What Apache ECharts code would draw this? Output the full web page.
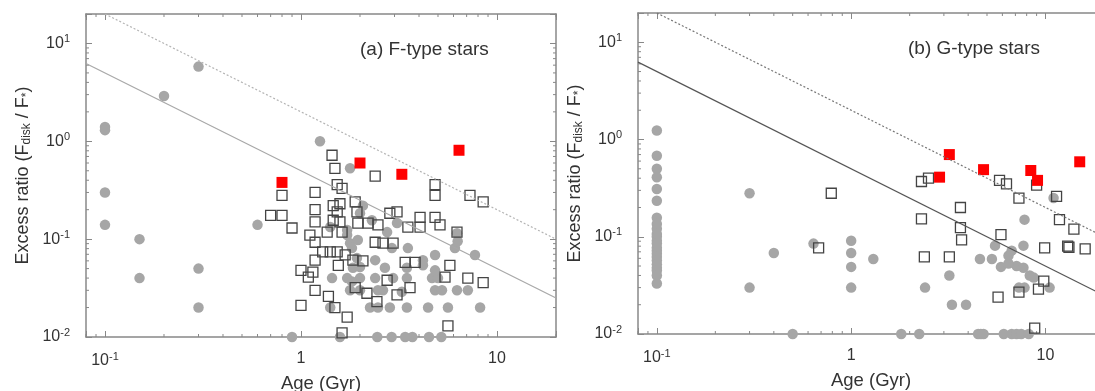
<!DOCTYPE html>
<html>
<head>
<meta charset="utf-8">
<script src="https://cdn.jsdelivr.net/npm/echarts@6.0.0/dist/echarts.min.js"></script>
<style>
html, body { margin: 0; padding: 0; background: #fff; }
#chart { width: 1095px; height: 391px; }
</style>
</head>
<body>
<div id="chart"></div>
<script>
// (a) F-type stars: [age Gyr, excess ratio]
const fCircles = [
  [0.1, 1.4], [0.1, 1.3], [0.1, 0.30], [0.1, 0.14], [0.15, 0.1], [0.15, 0.04], [0.2, 2.9],
  [0.3, 5.8], [0.3, 0.05], [0.3, 0.02], [0.6, 0.14], [1.25, 1.0], [1.78, 0.53],
  [0.9, 0.01], [1.58, 0.01], [2.45, 0.01], [2.9, 0.01], [3.4, 0.01], [3.7, 0.01], [4.5, 0.01], [5.2, 0.01],
  [1.41, 0.133], [1.72, 0.124], [1.78, 0.091], [1.95, 0.098], [2.75, 0.118], [3.09, 0.146],
  [2.91, 0.081], [3.51, 0.081], [4.83, 0.069], [6.25, 0.115], [6.1, 0.081], [7.72, 0.069],
  [2.39, 0.061], [2.68, 0.051], [1.44, 0.040], [1.72, 0.040], [2.0, 0.040], [2.39, 0.040],
  [2.95, 0.040], [3.47, 0.040], [4.66, 0.040], [5.0, 0.040], [1.78, 0.030], [2.0, 0.030],
  [2.62, 0.030], [3.27, 0.029], [4.83, 0.030], [5.24, 0.030], [6.25, 0.030], [7.1, 0.030],
  [1.41, 0.020], [2.25, 0.020], [2.47, 0.020], [2.84, 0.020], [3.47, 0.020], [4.45, 0.020],
  [5.62, 0.020], [8.2, 0.020], [4.83, 0.048], [2.0, 0.052], [4.19, 0.054], [2.07, 0.22],
  [1.72, 0.11], [1.82, 0.081], [1.93, 0.064], [1.84, 0.051], [1.82, 0.037], [2.47, 0.030],
  [3.47, 0.051], [4.19, 0.061], [6.3, 0.095], [2.0, 0.184], [2.3, 0.156]
]
const fSquares = [
  [1.44, 0.72], [1.49, 0.53], [0.80, 0.28], [1.18, 0.30], [1.53, 0.36], [1.62, 0.33], [0.70, 0.175],
  [0.80, 0.175], [0.90, 0.13], [1.18, 0.20], [1.18, 0.15], [1.46, 0.22], [1.53, 0.19], [1.89, 0.24],
  [1.93, 0.19], [1.95, 0.146], [1.46, 0.156], [1.58, 0.15], [1.11, 0.11], [1.18, 0.093], [1.36, 0.118],
  [1.62, 0.118], [1.29, 0.074], [1.41, 0.074], [1.53, 0.074], [1.68, 0.069], [1.18, 0.061], [1.55, 0.054],
  [1.0, 0.048], [1.15, 0.046], [1.09, 0.041], [1.18, 0.030], [1.38, 0.026], [1.89, 0.032], [1.0, 0.021],
  [1.49, 0.020], [1.72, 0.016], [1.62, 0.011], [2.2, 0.146], [2.47, 0.14], [2.84, 0.184], [3.09, 0.19],
  [3.51, 0.133], [4.05, 0.167], [4.05, 0.133], [4.83, 0.167], [5.12, 0.14], [4.83, 0.36], [4.83, 0.28],
  [7.28, 0.28], [8.5, 0.24], [6.25, 0.118], [2.39, 0.093], [2.62, 0.091], [2.95, 0.091], [1.84, 0.061],
  [2.07, 0.06], [3.4, 0.058], [3.82, 0.058], [5.75, 0.054], [2.75, 0.038], [3.6, 0.032], [7.1, 0.040],
  [8.5, 0.036], [5.43, 0.041], [2.17, 0.028], [3.09, 0.027], [5.62, 0.013], [2.39, 0.44], [2.44, 0.023],
  [1.58, 0.23]
]
const fRed = [[0.8, 0.38], [2.0, 0.6], [3.27, 0.46], [6.4, 0.81]]

// (b) G-type stars
const gCircles = [
  [0.1, 1.24], [0.1, 0.68], [0.1, 0.50], [0.1, 0.41], [0.1, 0.31], [0.1, 0.235], [0.1, 0.157],
  [0.1, 0.135], [0.1, 0.121], [0.1, 0.107], [0.1, 0.1], [0.1, 0.091], [0.1, 0.085], [0.1, 0.077],
  [0.1, 0.072], [0.1, 0.067], [0.1, 0.062], [0.1, 0.057], [0.1, 0.052], [0.1, 0.048], [0.1, 0.045],
  [0.1, 0.04], [0.1, 0.033],
  [0.3, 0.28], [0.3, 0.03], [0.4, 0.068], [0.5, 0.01], [0.64, 0.085], [1.0, 0.091], [1.0, 0.068],
  [1.0, 0.049], [1.0, 0.030], [1.3, 0.059], [2.4, 0.030], [3.2, 0.040], [3.3, 0.020], [3.9, 0.020],
  [4.6, 0.059], [5.3, 0.059], [5.5, 0.081], [5.9, 0.049], [6.45, 0.064], [6.7, 0.072], [7.7, 0.081],
  [7.1, 0.05], [7.7, 0.048], [8.3, 0.040], [8.7, 0.038], [7.3, 0.03], [7.8, 0.03], [10.5, 0.03],
  [7.8, 0.15], [11, 0.25], [6.45, 0.053],
  [1.81, 0.01], [2.24, 0.01], [4.5, 0.01], [4.65, 0.01], [4.8, 0.01], [6.1, 0.01], [6.7, 0.01],
  [7.1, 0.01], [7.5, 0.01], [8.2, 0.01]
]
const gSquares = [
  [0.79, 0.28], [0.68, 0.077], [2.3, 0.37], [2.5, 0.40], [3.65, 0.20], [2.3, 0.153], [3.65, 0.124],
  [3.7, 0.093], [2.38, 0.062], [3.2, 0.062], [5.9, 0.105], [5.8, 0.38], [6.3, 0.35], [7.3, 0.25],
  [9.0, 0.34], [11.4, 0.26], [11.8, 0.15], [14, 0.12], [9.9, 0.077], [13, 0.08], [13.2, 0.078],
  [16, 0.075], [9.8, 0.035], [9.2, 0.029], [7.3, 0.027], [5.7, 0.024], [8.8, 0.0115]
]
const gRed = [[3.2, 0.70], [2.85, 0.41], [4.8, 0.49], [8.4, 0.48], [9.1, 0.38], [15, 0.59]]

// reference lines (end points)
const solidLine = [[0.08, 6.25], [20, 0.025]]
const dottedLine = [[0.1, 20], [20, 0.1]]

// minor tick positions
const xMinor = [0.08, 0.09, 0.2, 0.3, 0.4, 0.5, 0.6, 0.7, 0.8, 0.9, 2, 3, 4, 5, 6, 7, 8, 9, 20]
const yMinor = [0.02, 0.03, 0.04, 0.05, 0.06, 0.07, 0.08, 0.09, 0.2, 0.3, 0.4, 0.5, 0.6, 0.7, 0.8, 0.9,
  2, 3, 4, 5, 6, 7, 8, 9]

const FONT = '"Liberation Sans", Arial, sans-serif'
const AX = '#888'
const TXT = '#333'

let chart = echarts.init(document.getElementById('chart'))

function powLabel(v, plainSmall) {
  let l = Math.log10(v)
  let e = Math.round(l)
  if (Math.abs(l - e) > 1e-6) return ''
  if (plainSmall && e === 0) return '{b|1}'
  if (plainSmall && e === 1) return '{b|10}'
  return '{b|10}{s|' + e + '}'
}
const labelRich = {
  b: { fontSize: 16, color: TXT, fontFamily: FONT },
  s: { fontSize: 11, color: TXT, fontFamily: FONT, padding: [0, 0, 9, 0] },
}

function xAxes(g) {
  let base = {
    type: 'log', logBase: 10, min: 0.08, max: 20, gridIndex: g,
    axisLine: { lineStyle: { color: AX, width: 1.5 } },
    axisTick: { inside: true, length: 6, lineStyle: { color: AX } },
    splitLine: { show: false },
  }
  return [
    Object.assign({}, base, {
      position: 'bottom',
      axisLabel: { margin: 14, formatter: (v) => powLabel(v, true), rich: labelRich },
      name: 'Age (Gyr)', nameLocation: 'middle', nameGap: 37,
      nameTextStyle: { fontSize: 18.5, color: TXT, fontFamily: FONT },
    }),
    Object.assign({}, base, { position: 'top', axisLabel: { show: false } }),
  ]
}

function yAxes(g) {
  let base = {
    type: 'log', logBase: 10, min: 0.01, max: 20, gridIndex: g,
    axisLine: { lineStyle: { color: AX, width: 1.5 } },
    axisTick: { inside: true, length: 6, lineStyle: { color: AX } },
    splitLine: { show: false },
  }
  return [
    Object.assign({}, base, {
      position: 'left',
      axisLabel: { margin: 16, formatter: (v) => powLabel(v, false), rich: labelRich },
      name: 'Excess ratio (F{sub|disk} / F{sub|*})', nameLocation: 'middle', nameGap: 53, nameRotate: 90,
      nameTextStyle: {
        fontSize: 18, color: TXT, fontFamily: FONT,
        rich: { sub: { fontSize: 12, color: TXT, fontFamily: FONT, padding: [8, 0, 0, 0] } },
      },
    }),
    Object.assign({}, base, { position: 'right', axisLabel: { show: false } }),
  ]
}

// short minor ticks on both sides of the box
function xMinorRender(params, api) {
  let cs = params.coordSys
  let x = api.coord([api.value(0), 1])[0]
  let b = cs.y + cs.height
  let st = { stroke: AX, lineWidth: 1 }
  return {
    type: 'group',
    children: [
      { type: 'line', shape: { x1: x, y1: b, x2: x, y2: b - 3 }, style: st },
      { type: 'line', shape: { x1: x, y1: cs.y, x2: x, y2: cs.y + 3 }, style: st },
    ],
  }
}
function yMinorRender(params, api) {
  let cs = params.coordSys
  let y = api.coord([1, api.value(1)])[1]
  let r = cs.x + cs.width
  let st = { stroke: AX, lineWidth: 1 }
  return {
    type: 'group',
    children: [
      { type: 'line', shape: { x1: cs.x, y1: y, x2: cs.x + 3, y2: y }, style: st },
      { type: 'line', shape: { x1: r, y1: y, x2: r - 3, y2: y }, style: st },
    ],
  }
}

function panelSeries(g, circles, squares, red, solidColor, dotColor) {
  let ax = { xAxisIndex: g * 2, yAxisIndex: g * 2 }
  return [
    Object.assign({ type: 'line', data: solidLine, symbol: 'none', silent: true,
      lineStyle: { color: solidColor, width: 1.2 } }, ax),
    Object.assign({ type: 'line', data: dottedLine, symbol: 'none', silent: true,
      lineStyle: { color: dotColor, width: 1.2, type: [2, 2] } }, ax),
    Object.assign({ type: 'scatter', data: circles, symbol: 'circle', symbolSize: 10.5,
      itemStyle: { color: '#a6a6a6', opacity: 1 } }, ax),
    Object.assign({ type: 'scatter', data: squares, symbol: 'rect', symbolSize: 10,
      itemStyle: { color: 'rgba(0,0,0,0)', borderColor: '#444', borderWidth: 1.3, opacity: 1 } }, ax),
    Object.assign({ type: 'scatter', data: red, symbol: 'rect', symbolSize: 11,
      itemStyle: { color: '#ff0000', opacity: 1 } }, ax),
    Object.assign({ type: 'custom', renderItem: xMinorRender, clip: false, silent: true,
      data: xMinor.map((v) => [v, 1]) }, ax),
    Object.assign({ type: 'custom', renderItem: yMinorRender, clip: false, silent: true,
      data: yMinor.map((v) => [1, v]) }, ax),
  ]
}

let option = {
  animation: false,
  backgroundColor: '#fff',
  title: [
    { text: '(a) F-type stars', left: 355, top: 35,
      textStyle: { fontSize: 19, fontWeight: 'normal', color: TXT, fontFamily: FONT } },
    { text: '(b) G-type stars', left: 903, top: 34,
      textStyle: { fontSize: 19, fontWeight: 'normal', color: TXT, fontFamily: FONT } },
  ],
  grid: [
    { left: 86, top: 14, width: 470, height: 323, outerBoundsMode: 'none', containLabel: false },
    { left: 638, top: 13, width: 466, height: 321, outerBoundsMode: 'none', containLabel: false },
  ],
  xAxis: [...xAxes(0), ...xAxes(1)],
  yAxis: [...yAxes(0), ...yAxes(1)],
  series: [
    ...panelSeries(0, fCircles, fSquares, fRed, '#a8a8a8', '#b4b4b4'),
    ...panelSeries(1, gCircles, gSquares, gRed, '#555', '#777'),
  ],
}
chart.setOption(option)
</script>
</body>
</html>
